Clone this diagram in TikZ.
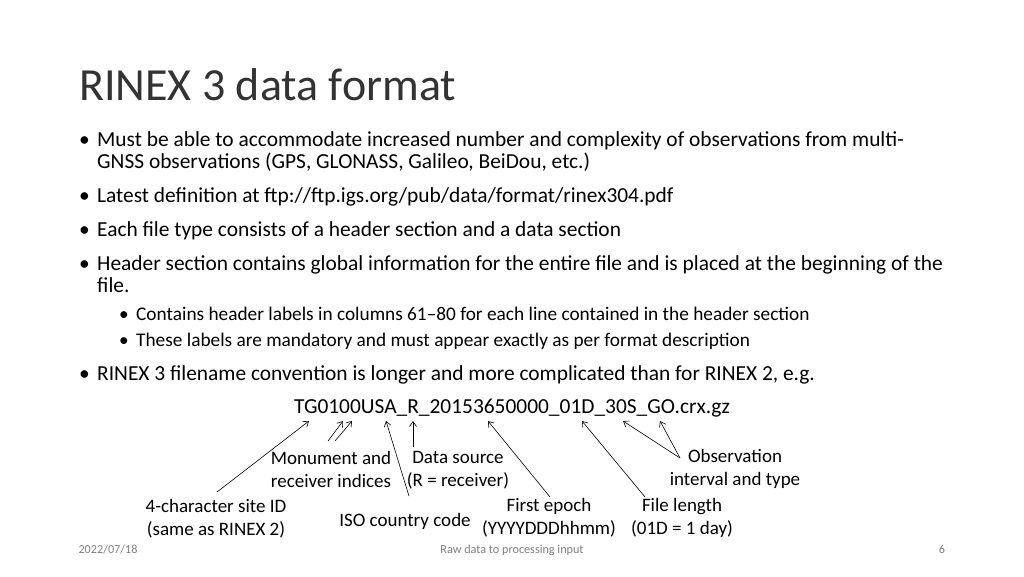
\documentclass[tikz,border=0pt]{standalone}
\usepackage{fontspec}
\setmainfont{Carlito}
\begin{document}
\begin{tikzpicture}[x=1pt,y=-1pt,
 body/.style={anchor=base west,inner sep=0,font=\fontsize{21.4}{25}\selectfont},
 sub/.style={anchor=base west,inner sep=0,font=\fontsize{19.3}{22}\selectfont},
 lab/.style={align=center,inner sep=0,font=\fontsize{19}{23}\selectfont},
 foot/.style={inner sep=0,anchor=base,text=gray,font=\fontsize{12.2}{14}\selectfont},
 arr/.style={->,>={Straight Barb[length=5pt,width=7pt]},line width=0.6pt}]
\usetikzlibrary{arrows.meta}
\useasboundingbox (0,0) rectangle (1024,576);
\node[anchor=base west,inner sep=0,text=black!80,font=\fontsize{46}{50}\selectfont] (title) at (79,100) {RINEX 3 data format};
\foreach \y/\n in {146/b1,202/b2,236/b3,270/b4,380/b5}{\node[body] (\n d) at (79,\y) {•};}
\node[body] (t1) at (97,146) {Must be able to accommodate increased number and complexity of observations from multi-};
\node[body] (t1b) at (97,168) {GNSS observations (GPS, GLONASS, Galileo, BeiDou, etc.)};
\node[body] (t2) at (97,202) {Latest definition at ftp://ftp.igs.org/pub/data/format/rinex304.pdf};
\node[body] (t3) at (97,236) {Each file type consists of a header section and a data section};
\node[body] (t4) at (97,270) {Header section contains global information for the entire file and is placed at the beginning of the};
\node[body] (t4b) at (97,292) {file.};
\node[sub] (s1d) at (119,320) {•};
\node[sub] (s1) at (136,320) {Contains header labels in columns 61–80 for each line contained in the header section};
\node[sub] (s2d) at (119,346) {•};
\node[sub] (s2) at (136,346) {These labels are mandatory and must appear exactly as per format description};
\node[body] (t5) at (97,380) {RINEX 3 filename convention is longer and more complicated than for RINEX 2, e.g.};
\node[anchor=base west,inner sep=0,font=\fontsize{21.4}{24}\selectfont] (fn) at (294,413) {TG0100USA\_R\_20153650000\_01D\_30S\_GO.crx.gz};
% targets
\coordinate (a1) at (309,421); \coordinate (a2) at (343,421); \coordinate (a3) at (352,421);
\coordinate (a4) at (386,421); \coordinate (a5) at (413,421); \coordinate (a6) at (488,421);
\coordinate (a7) at (582,421); \coordinate (a8) at (623,421); \coordinate (a9) at (660,421);
\coordinate (f1) at (217,492); \coordinate (f2) at (328,441); \coordinate (f3) at (335,441);
\coordinate (f4) at (409,496); \coordinate (f5) at (413,447); \coordinate (f6) at (550,497);
\coordinate (f7) at (645,497); \coordinate (f8) at (680,458);
\draw[arr] (f1)--(a1); \draw[arr] (f2)--(a2); \draw[arr] (f3)--(a3);
\draw[arr] (f4)--(a4); \draw[arr] (f5)--(a5); \draw[arr] (f6)--(a6);
\draw[arr] (f7)--(a7); \draw[arr] (f8)--(a8); \draw[arr] (f8)--(a9);
\node[lab] (l1) at (216,519) {4-character site ID\\(same as RINEX 2)};
\node[lab] (l2) at (331,469) {Monument and\\receiver indices};
\node[lab] (l3) at (458,470) {Data source\\(R = receiver)};
\node[lab] (l4) at (405,521) {ISO country code};
\node[lab] (l5) at (549,518) {First epoch\\(YYYYDDDhhmm)};
\node[lab] (l6) at (682,518) {File length\\(01D = 1 day)};
\node[lab] (l7) at (735,469) {Observation\\interval and type};
\node[foot] (d) at (108,553) {2022/07/18};
\node[foot] (c) at (512,553) {Raw data to processing input};
\node[foot] (p) at (942,553) {6};
\end{tikzpicture}
\end{document}
